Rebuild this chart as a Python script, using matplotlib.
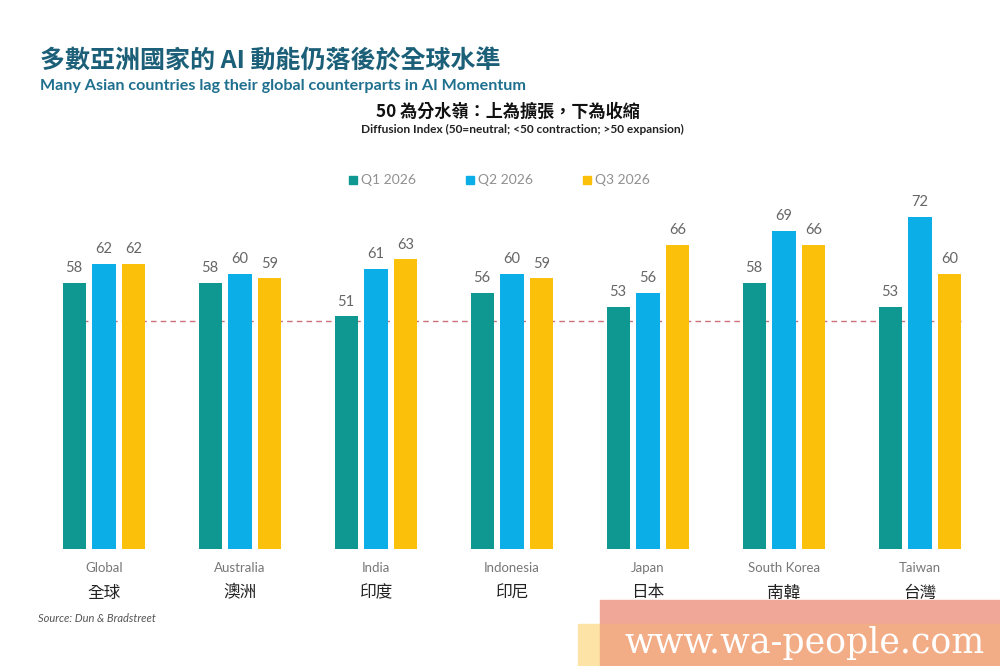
import numpy as np
import matplotlib
matplotlib.use('Agg')
import matplotlib.pyplot as plt
from matplotlib.patches import Rectangle
from matplotlib.transforms import blended_transform_factory

# ─── data ────────────────────────────────────────────
COUNTRIES_EN = ['Global', 'Australia', 'India', 'Indonesia', 'Japan', 'South Korea', 'Taiwan']
COUNTRIES_ZH = ['全球', '澳洲', '印度', '印尼', '日本', '南韓', '台灣']
SERIES = ['Q1 2026', 'Q2 2026', 'Q3 2026']
Q1 = [58, 58, 51, 56, 53, 58, 53]
Q2 = [62, 60, 61, 60, 56, 69, 72]
Q3 = [62, 59, 63, 59, 66, 66, 60]
NEUTRAL = 50

COLORS = ['#0e9891', '#0caee8', '#fbc009']
FONT = ['Lato', 'Noto Sans CJK TC', 'DejaVu Sans']
CJK = ['Noto Sans CJK TC', 'DejaVu Sans']
plt.rcParams['font.family'] = FONT

fig = plt.figure(figsize=(10, 6.66), dpi=100)
ax = fig.add_axes([0.036, 0.1757, 0.952, 0.539])

x = np.arange(len(COUNTRIES_EN))
w, step = 0.17, 0.22
for k, vals in enumerate([Q1, Q2, Q3]):
    pos = x + (k - 1) * step
    ax.bar(pos, vals, width=w, color=COLORS[k], zorder=2)
    for p, v in zip(pos, vals):
        ax.text(p, v + 1.6, str(v), ha='center', va='bottom',
                fontsize=10.5, color='#666666')

left = x[0] - step - w / 2
right = x[-1] + step + w / 2
ax.hlines(NEUTRAL, left, right, colors='#c9707a', linestyles=(0, (4, 3)),
          lw=1.0, zorder=1)

ax.set_xlim(-0.5, len(x) - 0.5)
ax.set_ylim(2, 77.6)
ax.axis('off')

# category labels under the bars
tr = blended_transform_factory(ax.transData, fig.transFigure)
for i in x:
    ax.text(i, 1 - 568 / 666, COUNTRIES_EN[i], transform=tr, ha='center',
            va='center', fontsize=9.5, color='#777777')
    ax.text(i, 1 - 593 / 666, COUNTRIES_ZH[i], transform=tr, ha='center',
            va='center', fontsize=12, color='#222222', family=CJK)

# legend
for k, (s, lx) in enumerate(zip(SERIES, [0.349, 0.466, 0.583])):
    fig.patches.append(Rectangle((lx, 1 - 184 / 666), 0.008, 0.012,
                                 transform=fig.transFigure, color=COLORS[k]))
    fig.text(lx + 0.012, 1 - 180 / 666, s, ha='left', va='center',
             fontsize=10, color='#909090')

# titles
fig.text(0.04, 1 - 62 / 666, '多數亞洲國家的 AI 動能仍落後於全球水準',
         fontsize=18, fontweight='bold', color='#1b5f78', va='center', family=CJK)
fig.text(0.04, 1 - 86 / 666, 'Many Asian countries lag their global counterparts in AI Momentum',
         fontsize=11.6, fontweight='bold', color='#1f6f8f', va='center')
fig.text(0.508, 1 - 112 / 666, '50 為分水嶺：上為擴張，下為收縮',
         fontsize=12.3, fontweight='bold', color='#111111', ha='center', va='center', family=CJK)
fig.text(0.522, 1 - 129 / 666, 'Diffusion Index (50=neutral; <50 contraction; >50 expansion)',
         fontsize=8.6, fontweight='bold', color='#222222', ha='center', va='center')
fig.text(0.038, 1 - 619 / 666, 'Source: Dun & Bradstreet', fontsize=8,
         style='italic', color='#555555', va='center')

# watermark box
fig.patches.append(Rectangle((0.578, 0), 0.03, 1 - 624 / 666,
                             transform=fig.transFigure, color='#fde3a6'))
fig.patches.append(Rectangle((0.600, 1 - 624 / 666), 0.4, 24 / 666,
                             transform=fig.transFigure, color='#f0a797'))
fig.patches.append(Rectangle((0.600, 0), 0.4, 1 - 624 / 666,
                             transform=fig.transFigure, color='#f2ad86'))
fig.text(0.805, 1 - 643 / 666, 'www.wa-people.com', fontsize=25,
         family='DejaVu Serif', color='white', ha='center', va='center')

fig.savefig('out.png', dpi=100, facecolor='white')
